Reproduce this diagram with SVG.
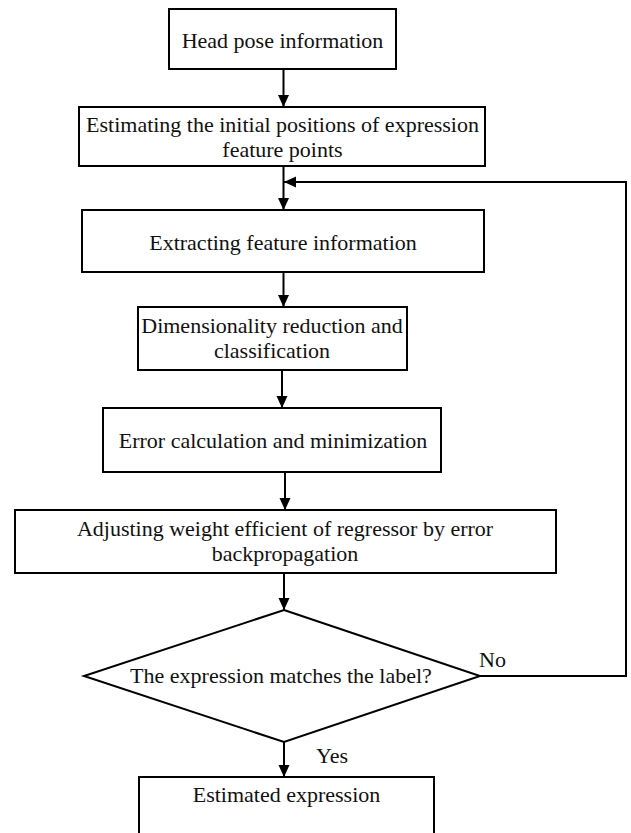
<svg xmlns="http://www.w3.org/2000/svg" width="631" height="833" viewBox="0 0 631 833">
<style>
.box{fill:#fff;stroke:#000;stroke-width:2}
.t{font-family:"Liberation Serif","DejaVu Serif",serif;font-size:22px;fill:#111;text-anchor:middle}
.lbl{font-family:"Liberation Serif","DejaVu Serif",serif;font-size:22px;fill:#111}
.c{fill:none;stroke:#000;stroke-width:2}
</style>
<defs>
<marker id="ah" markerUnits="userSpaceOnUse" markerWidth="12" markerHeight="14" refX="12" refY="5.5" orient="auto">
<path d="M0,0 L12,5.5 L0,11 Z" fill="#000"/>
</marker>
</defs>
<rect width="631" height="833" fill="#fff"/>
<g id="connectors">
<line class="c" x1="283.5" y1="69" x2="283.5" y2="107" marker-end="url(#ah)"/>
<line class="c" x1="283.5" y1="166" x2="283.5" y2="210" marker-end="url(#ah)"/>
<line class="c" x1="283.5" y1="272" x2="283.5" y2="307" marker-end="url(#ah)"/>
<line class="c" x1="282" y1="370" x2="282" y2="408" marker-end="url(#ah)"/>
<line class="c" x1="285" y1="472" x2="285" y2="510" marker-end="url(#ah)"/>
<line class="c" x1="284" y1="573" x2="284" y2="610" marker-end="url(#ah)"/>
<line class="c" x1="284" y1="742" x2="284" y2="777" marker-end="url(#ah)"/>
<polyline class="c" points="480,676 626,676 626,182 284,182" marker-end="url(#ah)"/>
</g>
<g id="n1">
<rect class="box" x="169" y="9" width="227" height="60"/>
<text class="t" x="282.5" y="48">Head pose information</text>
</g>
<g id="n2">
<rect class="box" x="79" y="107" width="406" height="59"/>
<text class="t" x="282.5" y="132">Estimating the initial positions of expression</text>
<text class="t" x="282.5" y="157">feature points</text>
</g>
<g id="n3">
<rect class="box" x="82" y="210" width="402" height="62"/>
<text class="t" x="283" y="250">Extracting feature information</text>
</g>
<g id="n4">
<rect class="box" x="138" y="307" width="269" height="63"/>
<text class="t" x="272" y="333">Dimensionality reduction and</text>
<text class="t" x="272" y="358">classification</text>
</g>
<g id="n5">
<rect class="box" x="103" y="408" width="338" height="64"/>
<text class="t" x="273" y="448">Error calculation and minimization</text>
</g>
<g id="n6">
<rect class="box" x="15" y="510" width="541" height="63"/>
<text class="t" x="285" y="536">Adjusting weight efficient of regressor by error</text>
<text class="t" x="285" y="561">backpropagation</text>
</g>
<g id="n7">
<polygon class="box" points="284,610 480,676 284,742 84,676"/>
<text class="t" x="281" y="683">The expression matches the label?</text>
</g>
<g id="n8">
<rect class="box" x="139" y="777" width="295" height="70"/>
<text class="t" x="286.5" y="802">Estimated expression</text>
</g>
<text class="lbl" x="479" y="667">No</text>
<text class="lbl" x="316" y="763">Yes</text>
</svg>
